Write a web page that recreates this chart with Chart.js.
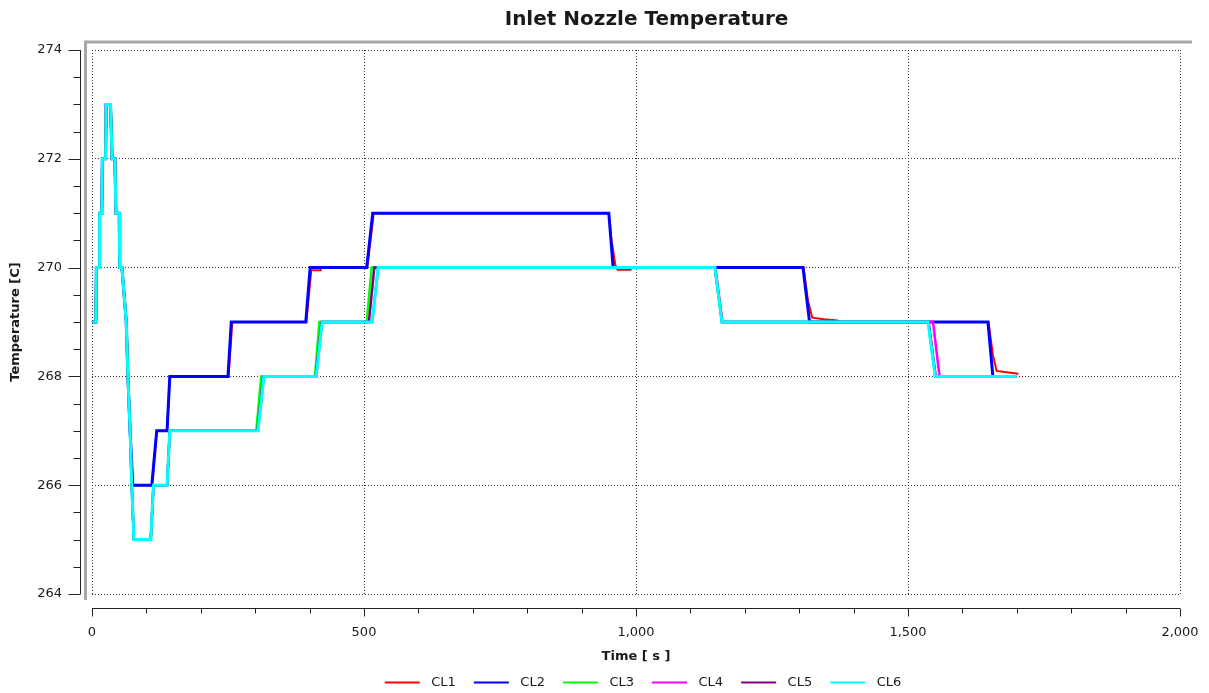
<!DOCTYPE html>
<html>
<head>
<meta charset="utf-8">
<script src="https://cdn.jsdelivr.net/npm/chart.js@4.4.0/dist/chart.umd.min.js"></script>
<style>
  body { margin: 0; background: #fff; }
  #temp { display: block; }
</style>
</head>
<body>
<canvas id="temp" width="1209" height="693"></canvas>
<script>
// shared start of all six loops (time s, temperature C)
var startTime = [1, 7, 8, 13, 14, 18, 19, 25, 26, 34, 37, 42, 44, 50, 51, 55, 59, 63, 66, 70];
var startTemp = [269, 269, 270, 270, 271, 271, 272, 272, 273, 273, 272, 272, 271, 271, 270, 270, 269.5, 269, 268, 267];

// CL1 / CL2 (upper group)
var cl1Time = [75, 110, 119, 138, 143, 251, 258, 394, 403, 420, 422, 506, 518, 950, 955, 962, 966, 990, 992, 1308, 1316, 1324, 1345, 1370, 1372, 1648, 1656, 1663, 1685, 1703];
var cl1Temp = [266, 266, 267, 267, 268, 268, 269, 269, 269.95, 269.95, 270, 270, 271, 271, 270.5, 270.05, 269.96, 269.96, 270, 270, 269.4, 269.08, 269.05, 269.03, 269, 269, 268.4, 268.1, 268.07, 268.05];
var cl2Time = [75, 110, 119, 138, 143, 250, 256, 393, 401, 505, 516, 950, 958, 1307, 1319, 1647, 1656, 1700];
var cl2Temp = [266, 266, 267, 267, 268, 268, 269, 269, 270, 270, 271, 271, 270, 270, 269, 269, 268, 268];

// CL3..CL6 (lower group)
var lowTemp = [266, 265, 265, 266, 266, 267, 267, 268, 268, 269, 269, 270, 270, 269, 269, 268, 268];
var cl3Time = [73, 77, 108, 113, 138, 143, 302, 311, 410, 418, 505, 514, 1145, 1158, 1537, 1550, 1700];
var cl4Time = [73, 77, 108, 113, 138, 143, 305, 316, 412, 423, 515, 526, 1146, 1159, 1546, 1558, 1700];
var cl5Time = [73, 77, 108, 113, 138, 143, 304, 315, 411, 422, 509, 519, 1145, 1158, 1538, 1551, 1700];
var cl6Time = [73, 77, 108, 113, 138, 143, 305, 316, 412, 423, 515, 526, 1145, 1158, 1537, 1550, 1700];

var names = ['CL1', 'CL2', 'CL3', 'CL4', 'CL5', 'CL6'];
var colors = ['#ff0000', '#0000ff', '#00ff00', '#ff00ff', '#800080', '#00ffff'];
var widths = [2, 3, 2.5, 2.5, 2.5, 3];
var yTicksMajor = 2;
var xTicksMajor = 500;

function pts(times, temps) {
  var t = startTime.concat(times), v = startTemp.concat(temps);
  return t.map(function (x, i) { return { x: x, y: v[i] }; });
}

// little line swatch for the legend
function legendLine(color) {
  var c = document.createElement('canvas');
  c.width = 54; c.height = 4;
  var g = c.getContext('2d');
  g.strokeStyle = color; g.lineWidth = 2;
  g.beginPath(); g.moveTo(14, 2); g.lineTo(49, 2); g.stroke();
  return c;
}

var series = [
  pts(cl1Time, cl1Temp), pts(cl2Time, cl2Temp),
  pts(cl3Time, lowTemp), pts(cl4Time, lowTemp),
  pts(cl5Time, lowTemp), pts(cl6Time, lowTemp)
];

var font = '"DejaVu Sans", Verdana, sans-serif';

var decor = {
  id: 'decor',
  afterDraw: function (chart) {
    var ctx = chart.ctx, xs = chart.scales.x, ys = chart.scales.y, a = chart.chartArea;
    ctx.save();
    // grey frame
    ctx.strokeStyle = '#a8a8a8'; ctx.lineWidth = 3;
    ctx.beginPath();
    ctx.moveTo(a.left - 6.5, a.bottom + 6);
    ctx.lineTo(a.left - 6.5, a.top - 8);
    ctx.lineTo(a.right + 12, a.top - 8);
    ctx.stroke();
    // axis lines + ticks
    ctx.strokeStyle = '#222'; ctx.lineWidth = 1;
    var ax = a.left - 11.5;
    ctx.beginPath();
    ctx.moveTo(ax, ys.getPixelForValue(274)); ctx.lineTo(ax, ys.getPixelForValue(264));
    ys.ticks.forEach(function (t) {
      var py = Math.round(ys.getPixelForValue(t.value)) + 0.5;
      var len = t.value % yTicksMajor === 0 ? 12 : 7;
      ctx.moveTo(ax - len, py); ctx.lineTo(ax, py);
    });
    var ay = a.bottom + 14.5;
    ctx.moveTo(xs.getPixelForValue(0), ay); ctx.lineTo(xs.getPixelForValue(2000), ay);
    xs.ticks.forEach(function (t) {
      var px = Math.round(xs.getPixelForValue(t.value)) + 0.5;
      var len = t.value % xTicksMajor === 0 ? 8 : 5;
      ctx.moveTo(px, ay); ctx.lineTo(px, ay + len);
    });
    ctx.stroke();
    // title
    ctx.fillStyle = '#1a1a1a';
    ctx.font = 'bold 20px ' + font;
    ctx.textAlign = 'center'; ctx.textBaseline = 'middle';
    ctx.fillText('Inlet Nozzle Temperature', (a.left - 8 + chart.width) / 2, 20);
    ctx.restore();
  }
};

new Chart(document.getElementById('temp'), {
  type: 'line',
  data: {
    datasets: series.map(function (d, i) {
      return {
        label: names[i],
        data: d,
        borderColor: colors[i],
        backgroundColor: colors[i],
        borderWidth: widths[i],
        pointRadius: 0,
        pointStyle: legendLine(colors[i]),
        fill: false,
        tension: 0,
        order: 6 - i
      };
    })
  },
  options: {
    responsive: false,
    animation: false,
    events: [],
    layout: { padding: { top: 50, right: 29, left: 0, bottom: -6 } },
    plugins: {
      title: { display: false },
      tooltip: { enabled: false },
      legend: {
        display: true,
        position: 'bottom',
        fullSize: false,
        labels: {
          usePointStyle: true,
          pointStyleWidth: 54,
          padding: 4,
          color: '#1a1a1a',
          font: { family: font, size: 13 },
          sort: function (a, b) { return a.datasetIndex - b.datasetIndex; }
        }
      }
    },
    scales: {
      x: {
        type: 'linear',
        min: 0, max: 2000,
        afterFit: function (s) { s.height = 78; s.paddingLeft = 0; s.paddingRight = 0; },
        border: { display: false, dash: [1, 2] },
        grid: {
          drawTicks: false,
          color: function (c) { return c.tick && c.tick.value % xTicksMajor === 0 ? '#333' : 'rgba(0,0,0,0)'; }
        },
        ticks: {
          stepSize: 100, autoSkip: false, maxRotation: 0, padding: 31,
          color: '#1a1a1a', font: { family: font, size: 13 },
          callback: function (v) { return v % xTicksMajor === 0 ? Number(v).toLocaleString('en-US') : ''; }
        },
        title: {
          display: true, text: 'Time [ s ]', color: '#1a1a1a',
          font: { family: font, size: 13, weight: 'bold' },
          padding: { top: 0, bottom: 8 }
        }
      },
      y: {
        min: 264, max: 274,
        afterFit: function (s) { s.width = 92; },
        border: { display: false, dash: [1, 2] },
        grid: {
          drawTicks: false,
          color: function (c) { return c.tick && c.tick.value % yTicksMajor === 0 ? '#333' : 'rgba(0,0,0,0)'; }
        },
        ticks: {
          stepSize: 0.5, autoSkip: false, padding: 30,
          color: '#1a1a1a', font: { family: font, size: 13 },
          callback: function (v) { return v % yTicksMajor === 0 ? String(v) : ''; }
        },
        title: {
          display: true, text: 'Temperature [C]', color: '#1a1a1a',
          font: { family: font, size: 13, weight: 'bold' },
          padding: { top: 8, bottom: 0 }
        }
      }
    }
  },
  plugins: [decor]
});
</script>
</body>
</html>
